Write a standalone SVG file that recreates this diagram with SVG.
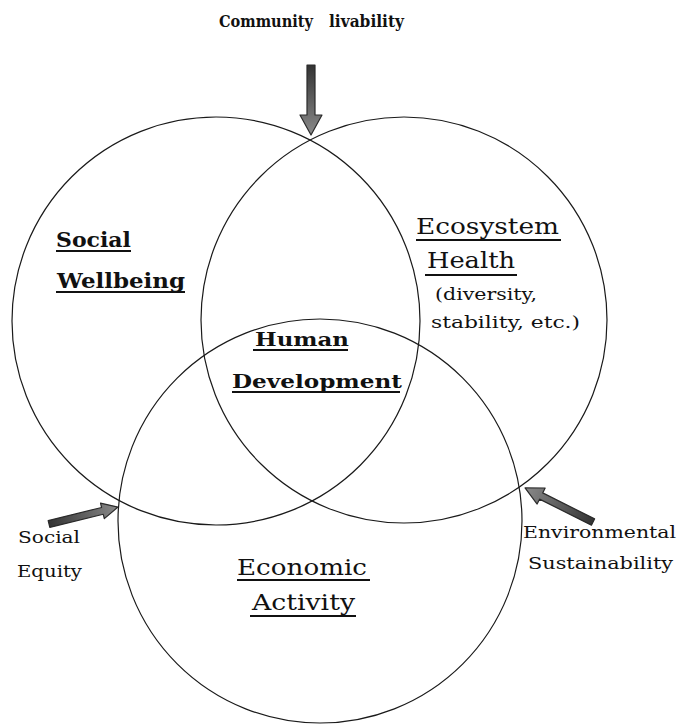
<svg xmlns="http://www.w3.org/2000/svg" width="679" height="725" viewBox="0 0 679 725">
<style>
.circ{fill:none;stroke:#1a1a1a;stroke-width:1.2}
.t{font-family:"DejaVu Serif","Liberation Serif",serif;fill:#111}
.b{font-weight:bold}
.ul{stroke:#111;stroke-width:1.8}
.arr{fill:url(#g);stroke:#2a2a2a;stroke-width:1.2;stroke-linejoin:round}
</style>
<defs>
<linearGradient id="g" x1="0" y1="0" x2="1" y2="0">
<stop offset="0" stop-color="#333"/>
<stop offset="1" stop-color="#8a8a8a"/>
</linearGradient>
</defs>
<rect width="679" height="725" fill="#fff"/>
<g id="social-wellbeing">
<circle class="circ" cx="216" cy="321" r="204"/>
<text class="t b" x="56" y="247" font-size="20" textLength="75" lengthAdjust="spacingAndGlyphs">Social</text>
<line class="ul" x1="56" y1="251" x2="131" y2="251"/>
<text class="t b" x="57" y="288" font-size="20" textLength="128" lengthAdjust="spacingAndGlyphs">Wellbeing</text>
<line class="ul" x1="56" y1="292" x2="185" y2="292"/>
</g>
<g id="ecosystem-health">
<circle class="circ" cx="404" cy="320" r="203"/>
<text class="t" x="416" y="234" font-size="23" textLength="143" lengthAdjust="spacingAndGlyphs">Ecosystem</text>
<line class="ul" x1="416" y1="240" x2="561" y2="240"/>
<text class="t" x="427" y="268" font-size="23" textLength="88" lengthAdjust="spacingAndGlyphs">Health</text>
<line class="ul" x1="425" y1="275" x2="517" y2="275"/>
<text class="t" x="435" y="300" font-size="16" textLength="102" lengthAdjust="spacingAndGlyphs">(diversity,</text>
<text class="t" x="431" y="328" font-size="16" textLength="149" lengthAdjust="spacingAndGlyphs">stability, etc.)</text>
</g>
<g id="economic-activity">
<circle class="circ" cx="320" cy="521" r="202"/>
<text class="t" x="237" y="575" font-size="23" textLength="130" lengthAdjust="spacingAndGlyphs">Economic</text>
<line class="ul" x1="237" y1="580" x2="370" y2="580"/>
<text class="t" x="252" y="610" font-size="23" textLength="103" lengthAdjust="spacingAndGlyphs">Activity</text>
<line class="ul" x1="250" y1="616" x2="356" y2="616"/>
</g>
<g id="human-development">
<text class="t b" x="255" y="346" font-size="19" textLength="94" lengthAdjust="spacingAndGlyphs">Human</text>
<line class="ul" x1="253" y1="350" x2="348" y2="350"/>
<text class="t b" x="232" y="388" font-size="19" textLength="170" lengthAdjust="spacingAndGlyphs">Development</text>
<line class="ul" x1="232" y1="392" x2="400" y2="392"/>
</g>
<g id="community-livability">
<text class="t b" x="219" y="27" font-size="16" textLength="94" lengthAdjust="spacingAndGlyphs">Community</text>
<text class="t b" x="329" y="27" font-size="16" textLength="75" lengthAdjust="spacingAndGlyphs">livability</text>
</g>
<g id="social-equity">
<text class="t" x="18" y="543" font-size="17" textLength="62" lengthAdjust="spacingAndGlyphs">Social</text>
<text class="t" x="17" y="577" font-size="17" textLength="65" lengthAdjust="spacingAndGlyphs">Equity</text>
</g>
<g id="environmental-sustainability">
<text class="t" x="523" y="538" font-size="17" textLength="153" lengthAdjust="spacingAndGlyphs">Environmental</text>
<text class="t" x="528" y="569" font-size="17" textLength="145" lengthAdjust="spacingAndGlyphs">Sustainability</text>
</g>
<g id="connectors">
<path class="arr" transform="translate(311,65) rotate(90)" d="M0,-4 L50,-4 L50,-11 L70,0 L50,11 L50,4 L0,4 Z"/>
<path class="arr" transform="translate(49,524) rotate(-13.8)" d="M0,-3.5 L55,-3.5 L55,-8 L71,0 L55,8 L55,3.5 L0,3.5 Z"/>
<path class="arr" transform="translate(593,522) rotate(-153.4)" d="M0,-3.5 L58,-3.5 L58,-9 L76,0 L58,9 L58,3.5 L0,3.5 Z"/>
</g>
</svg>
